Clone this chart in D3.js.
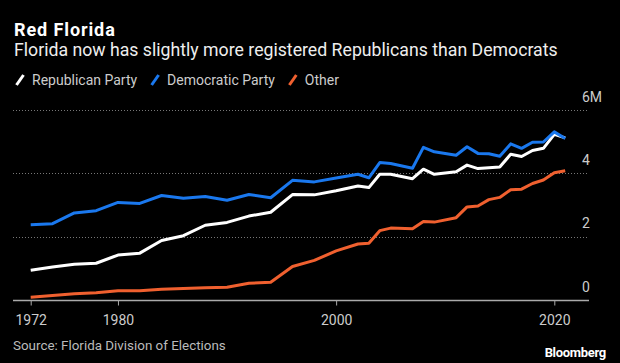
<!DOCTYPE html>
<html>
<head>
<meta charset="utf-8">
<script src="https://cdn.jsdelivr.net/npm/d3@7"></script>
<style>
  html, body { margin: 0; padding: 0; background: #000; }
  svg { display: block; font-family: Roboto, "Liberation Sans", sans-serif; }
</style>
</head>
<body>
<svg id="chart" width="620" height="363"></svg>
<script>
// registration data, millions of voters
var years = [1972, 1974, 1976, 1978, 1980, 1982, 1984, 1986, 1988, 1990, 1992, 1994, 1996, 1998, 2000,
  2002, 2003, 2004, 2005, 2007, 2008, 2009, 2011, 2012, 2013, 2014, 2015, 2016, 2017, 2018, 2019, 2020, 2021];

var republican = [0.94, 1.04, 1.13, 1.16, 1.42, 1.48, 1.88, 2.03, 2.36, 2.45, 2.65, 2.77, 3.33, 3.32, 3.45,
  3.60, 3.55, 3.97, 3.97, 3.83, 4.13, 3.97, 4.05, 4.26, 4.15, 4.18, 4.20, 4.60, 4.53, 4.72, 4.79, 5.23, 5.12];

var democratic = [2.38, 2.41, 2.75, 2.82, 3.08, 3.05, 3.30, 3.21, 3.27, 3.15, 3.33, 3.23, 3.78, 3.73, 3.85,
  3.97, 3.86, 4.34, 4.31, 4.16, 4.82, 4.68, 4.57, 4.84, 4.63, 4.62, 4.54, 4.93, 4.79, 4.98, 4.99, 5.31, 5.10];

var other = [0.09, 0.14, 0.20, 0.23, 0.29, 0.29, 0.34, 0.36, 0.39, 0.40, 0.53, 0.56, 1.06, 1.25, 1.55,
  1.77, 1.79, 2.19, 2.27, 2.25, 2.48, 2.46, 2.60, 2.94, 2.97, 3.17, 3.24, 3.48, 3.50, 3.68, 3.79, 4.02, 4.08];

var seriesNames = ["Republican Party", "Democratic Party", "Other"];
var seriesColors = ["#ffffff", "#1a78ee", "#f0602f"];
var xTicks = [1972, 1980, 2000, 2020];
var yTicks = [0, 2, 4, 6];

var svg = d3.select("#chart");

var x = d3.scaleLinear().domain([1972, 2020]).range([30.7, 554.3]);
var y = d3.scaleLinear().domain([0, 6]).range([300, 110]);
var left = 13, right = 589;

// titles
svg.append("text").attr("x", 14).attr("y", 36)
  .style("font-size", "18px").style("font-weight", "bold").style("fill", "#fff")
  .style("letter-spacing", "0.9px")
  .text("Red Florida");
svg.append("text").attr("x", 14).attr("y", 56)
  .style("font-size", "17.7px").style("fill", "#eee")
  .text("Florida now has slightly more registered Republicans than Democrats");

// legend
var lx = 15;
seriesNames.forEach(function(name, i) {
  svg.append("line")
    .attr("x1", lx + 1.5).attr("y1", 85)
    .attr("x2", lx + 8.5).attr("y2", 75)
    .style("stroke", seriesColors[i]).style("stroke-width", 3);
  var t = svg.append("text").attr("x", lx + 17).attr("y", 85)
    .style("font-size", "14px").style("fill", "#ccc")
    .text(name);
  lx = lx + 17 + t.node().getComputedTextLength() + 13;
});

// gridlines
var grid = svg.append("g");
grid.selectAll("line").data(yTicks.filter(function(d) { return d > 0; }))
  .enter().append("line")
  .attr("x1", left).attr("x2", right)
  .attr("y1", function(d) { return Math.round(y(d)) + 0.5; })
  .attr("y2", function(d) { return Math.round(y(d)) + 0.5; })
  .style("stroke", "#777").style("stroke-dasharray", "1,2");

grid.selectAll("text").data(yTicks)
  .enter().append("text")
  .attr("x", 582).attr("y", function(d) { return y(d) - 8.5; })
  .style("font-size", "14px").style("fill", "#ccc")
  .text(function(d) { return d === 6 ? "6M" : d; });

// x axis
var xAxis = svg.append("g").attr("transform", "translate(0,300.5)");
xAxis.append("line").attr("x1", left).attr("x2", right)
  .style("stroke", "#aaa").style("stroke-width", 1.5);
xAxis.call(d3.axisBottom(x).tickValues(xTicks).tickFormat(d3.format("d")).tickSize(5).tickPadding(10));
xAxis.select(".domain").remove();
xAxis.selectAll(".tick line").style("stroke", "#aaa");
xAxis.selectAll(".tick text").style("font-size", "14px").style("fill", "#ccc")
  .style("font-family", "Roboto, sans-serif");

// lines
var line = d3.line()
  .x(function(d) { return x(d[0]); })
  .y(function(d) { return y(d[1]); });

[republican, democratic, other].forEach(function(vals, i) {
  svg.append("path")
    .datum(d3.zip(years, vals))
    .attr("d", line)
    .style("fill", "none")
    .style("stroke", seriesColors[i])
    .style("stroke-width", 3)
    .style("stroke-linejoin", "round");
});

// footer
svg.append("text").attr("x", 13).attr("y", 350)
  .style("font-size", "13.4px").style("fill", "#bbb")
  .text("Source: Florida Division of Elections");
svg.append("text").attr("x", 606).attr("y", 357)
  .attr("text-anchor", "end")
  .style("font-size", "13px").style("font-weight", "bold").style("fill", "#fff")
  .style("letter-spacing", "-0.3px")
  .text("Bloomberg");
</script>
</body>
</html>
